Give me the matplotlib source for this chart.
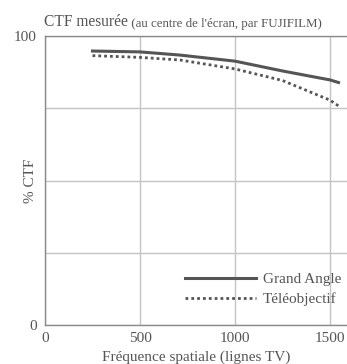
import matplotlib.pyplot as plt

freq = [250, 500, 710, 1000, 1250, 1500, 1545]
grand_angle = [94.8, 94.5, 93.4, 91.3, 87.9, 84.8, 83.9]
teleobjectif = [93.2, 92.6, 91.7, 88.6, 84.6, 77.8, 75.8]
x_ticks = [0, 500, 1000, 1500]
y_ticks = [0, 25, 50, 75, 100]

plt.rcParams['font.family'] = ['Liberation Serif', 'DejaVu Serif']
txt = '#555555'

W, H = 347, 364
fig = plt.figure(figsize=(W / 100, H / 100), dpi=100)
ax = fig.add_axes([45 / W, (H - 325) / H, 1 - 45 / W, (325 - 36) / H])

ax.plot(freq, grand_angle, color='#555555', lw=2.2, label='Grand Angle')
ax.plot(freq, teleobjectif, color='#555555', lw=2.0, linestyle=(0, (1, 1.1)),
        dash_capstyle='butt', label='Téléobjectif')

ax.set_xlim(0, (W - 45) / 95 * 500)
ax.set_ylim(0, 100)
ax.set_xticks(x_ticks)
ax.set_yticks(y_ticks)
ax.set_yticklabels(['0', '', '', '', '100'])
ax.grid(True, color='#c4c4c4', lw=1.0)
ax.set_axisbelow(True)
ax.tick_params(length=0, labelsize=11, colors=txt)
ax.tick_params(axis='x', pad=5)
ax.tick_params(axis='y', pad=6)
for s in ['left', 'bottom', 'top']:
    ax.spines[s].set_color('#8a8a8a')
    ax.spines[s].set_linewidth(1.0)
ax.spines['right'].set_visible(False)

ax.set_xlabel('Fréquence spatiale (lignes TV)', fontsize=11, color=txt, labelpad=4)
ax.set_ylabel('% CTF', fontsize=11, color=txt)
ax.yaxis.set_label_coords(-0.026, 0.5)

leg = ax.legend(loc='lower right', bbox_to_anchor=(1.0, 0.045), frameon=False,
                fontsize=11, handlelength=4.7, handletextpad=0.4,
                labelspacing=0.4, borderaxespad=0)
for t in leg.get_texts():
    t.set_color(txt)

t1 = fig.text(44 / W, 1 - 26 / H, 'CTF mesurée', fontsize=11.2, color=txt,
              ha='left', va='baseline')
ax.annotate(" (au centre de l'écran, par FUJIFILM)", xy=(1, 0), xycoords=t1,
            fontsize=9.3, color=txt, ha='left', va='bottom', annotation_clip=False)

fig.savefig('out.png', dpi=100)
